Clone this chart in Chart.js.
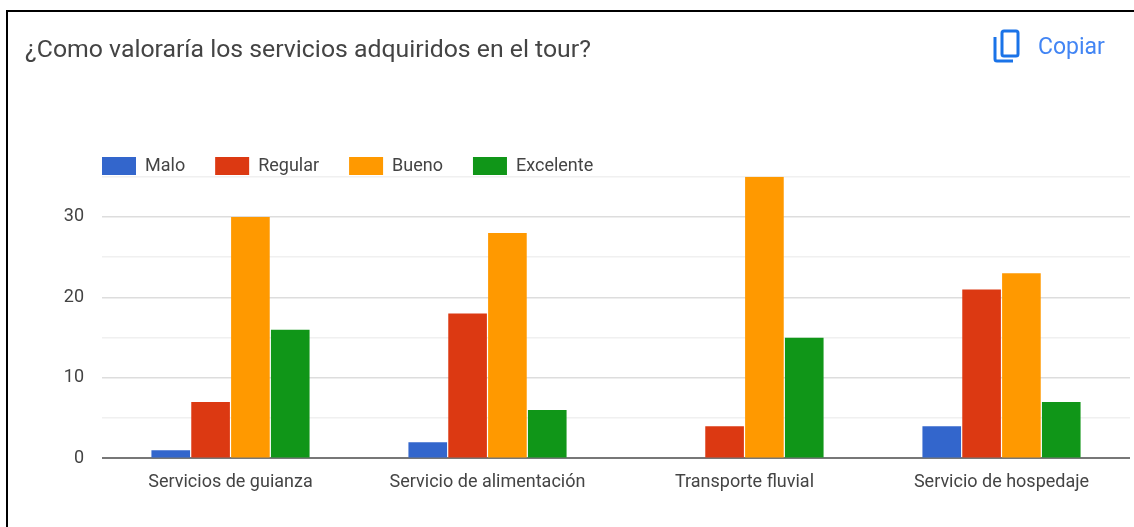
<!DOCTYPE html>
<html><head><meta charset="utf-8">
<style>
html,body{margin:0;padding:0;background:#fff;width:1134px;height:527px;overflow:hidden}
#wrap{position:relative;width:1134px;height:527px}
#frameT{position:absolute;left:6px;top:10px;width:1128px;height:2px;background:#000}
#frameL{position:absolute;left:6px;top:10px;width:2px;height:517px;background:#000}
#copy{position:absolute;left:993px;top:28px;display:flex;align-items:center;font:23px Roboto,sans-serif;color:#4285f4;filter:blur(.4px)}
#copy svg{margin-right:17px}
canvas{position:absolute;left:0;top:0;filter:blur(.5px)}
</style></head><body>
<div id="wrap">
<canvas id="c" width="1134" height="527"></canvas>
<div id="frameT"></div><div id="frameL"></div>
<div id="copy"><svg width="28" height="36" viewBox="0 0 28 36" fill="none" stroke="#1a73e8" stroke-width="3"><rect x="9" y="3" width="16" height="25" rx="2"/><path d="M2 9V31a2 2 0 0 0 2 2H20"/></svg><span>Copiar</span></div>
</div>
<script src="https://cdn.jsdelivr.net/npm/chart.js@4"></script>
<script>
const chartTitle = "¿Como valoraría los servicios adquiridos en el tour?";
const categories = ["Servicios de guianza","Servicio de alimentación","Transporte fluvial","Servicio de hospedaje"];
const malo = [1,2,0,4];
const regular = [7,18,4,21];
const bueno = [30,28,35,23];
const excelente = [16,6,15,7];

const moveLegend = {
  id:'moveLegend',
  afterLayout(chart){
    const l = chart.legend;
    const w = l.right - l.left;
    l.left = 72; l.right = 72 + w;
    l.top = 127; l.bottom = l.top + l.height;
    l.adjustHitBoxes && l.adjustHitBoxes();
  }
};

new Chart(document.getElementById('c'),{
  type:'bar',
  plugins:[moveLegend],
  data:{labels:categories,datasets:[
    {label:'Malo',data:malo,backgroundColor:'#3366cc'},
    {label:'Regular',data:regular,backgroundColor:'#dc3912'},
    {label:'Bueno',data:bueno,backgroundColor:'#ff9900'},
    {label:'Excelente',data:excelente,backgroundColor:'#109618'}
  ]},
  options:{
    responsive:false,animation:false,
    layout:{padding:{left:25,right:4,top:36,bottom:21}},
    datasets:{bar:{categoryPercentage:0.62,barPercentage:0.97}},
    plugins:{
      tooltip:{enabled:false},
      title:{display:true,text:chartTitle,align:'start',color:'#444',
        font:{family:'Roboto',size:24.8,weight:'normal'},padding:{top:0,bottom:53}},
      legend:{display:true,position:'top',align:'start',
        labels:{boxWidth:34,boxHeight:18,padding:30,color:'#444',font:{family:'Roboto',size:18}}}
    },
    scales:{
      x:{grid:{display:false,drawTicks:false},border:{display:false},
        ticks:{color:'#444',font:{family:'Roboto',size:18},padding:13,maxRotation:0}},
      y:{min:0,max:35,afterFit(a){a.width=77;},
        border:{display:false},
        grid:{drawTicks:false,
          color:c=>c.tick.value===0?'#777':(c.tick.value%10===0?'#ddd':'#f0f0f0'),
          lineWidth:c=>c.tick.value===0?2:1.5},
        ticks:{stepSize:5,color:'#444',padding:18,font:{family:'Roboto',size:18},
          callback:v=>v%10===0?v:''}}
    }
  }
});
</script>
</body></html>
